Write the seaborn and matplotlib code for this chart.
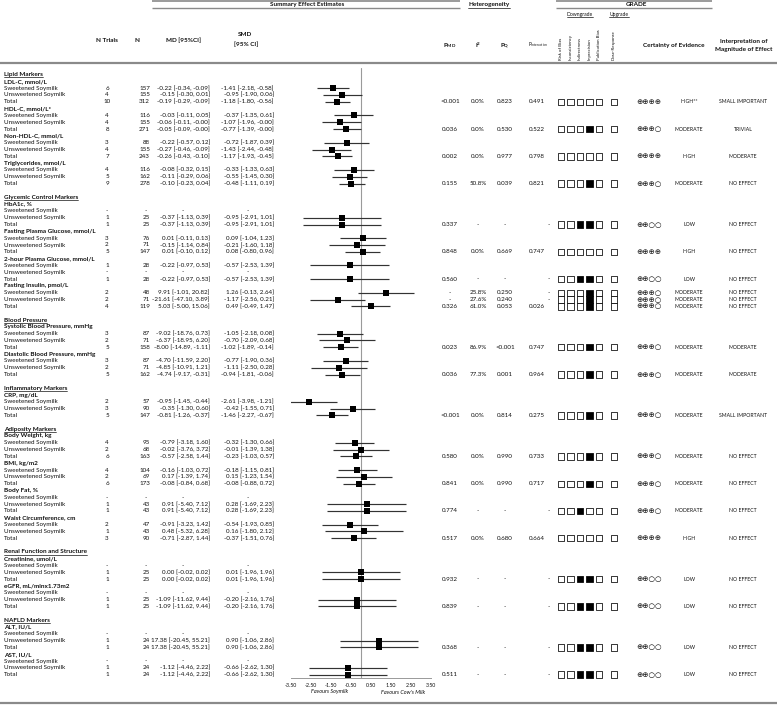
import numpy as np
import pandas as pd
import matplotlib
matplotlib.use("Agg")
import matplotlib.pyplot as plt
import seaborn as sns

# ---------------- data ----------------
sections = ["Lipid Markers", "Glycemic Control Markers", "Blood Pressure", "Inflammatory Markers",
            "Adiposity Markers", "Renal Function and Structure", "NAFLD Markers"]
section_sizes = [4, 4, 2, 1, 4, 2, 2]
outcomes = ["LDL-C, mmol/L", "HDL-C, mmol/L*", "Non-HDL-C, mmol/L", "Triglycerides, mmol/L",
            "HbA1c, %", "Fasting Plasma Glucose, mmol/L", "2-hour Plasma Glucose, mmol/L", "Fasting Insulin, pmol/L",
            "Systolic Blood Pressure, mmHg", "Diastolic Blood Pressure, mmHg",
            "CRP, mg/dL",
            "Body Weight, kg", "BMI, kg/m2", "Body Fat, %", "Waist Circumference, cm",
            "Creatinine, umol/L", "eGFR, mL/minx1.73m2",
            "ALT, IU/L", "AST, IU/L"]
subgroups = ["Sweetened Soymilk", "Unsweetened Soymilk", "Total"]

n_trials = [[6, 4, 10], [4, 4, 8], [3, 4, 7], [4, 5, 9],
            [None, 1, 1], [3, 2, 5], [1, None, 1], [2, 2, 4],
            [3, 2, 5], [3, 2, 5],
            [2, 3, 5],
            [4, 2, 6], [4, 2, 6], [None, 1, 1], [2, 1, 3],
            [None, 1, 1], [None, 1, 1],
            [None, 1, 1], [None, 1, 1]]
n_part = [[157, 155, 312], [116, 155, 271], [88, 155, 243], [116, 162, 278],
          [None, 25, 25], [76, 71, 147], [28, None, 28], [48, 71, 119],
          [87, 71, 158], [87, 71, 162],
          [57, 90, 147],
          [95, 68, 163], [104, 69, 173], [None, 43, 43], [47, 43, 90],
          [None, 25, 25], [None, 25, 25],
          [None, 24, 24], [None, 24, 24]]

md_est = [[-0.22, -0.15, -0.19], [-0.03, -0.06, -0.05], [-0.22, -0.27, -0.26], [-0.08, -0.11, -0.10],
          [None, -0.37, -0.37], [0.01, -0.15, 0.01], [-0.22, None, -0.22], [9.91, -21.61, 5.03],
          [-9.02, -6.37, -8.00], [-4.70, -4.85, -4.74],
          [-0.95, -0.35, -0.81],
          [-0.79, -0.02, -0.57], [-0.16, 0.17, -0.08], [None, 0.91, 0.91], [-0.91, 0.48, -0.71],
          [None, 0.00, 0.00], [None, -1.09, -1.09],
          [None, 17.38, 17.38], [None, -1.12, -1.12]]
md_lo = [[-0.34, -0.30, -0.29], [-0.11, -0.11, -0.09], [-0.57, -0.46, -0.43], [-0.32, -0.29, -0.23],
         [None, -1.13, -1.13], [-0.11, -1.14, -0.10], [-0.97, None, -0.97], [-1.01, -47.10, -5.00],
         [-18.76, -18.95, -14.89], [-11.59, -10.91, -9.17],
         [-1.45, -1.30, -1.26],
         [-3.18, -3.76, -2.58], [-1.03, -1.39, -0.84], [None, -5.40, -5.40], [-3.23, -5.32, -2.87],
         [None, -0.02, -0.02], [None, -11.62, -11.62],
         [None, -20.45, -20.45], [None, -4.46, -4.46]]
md_hi = [[-0.09, 0.01, -0.09], [0.05, -0.0, -0.0], [0.12, -0.09, -0.10], [0.15, 0.06, 0.04],
         [None, 0.39, 0.39], [0.13, 0.84, 0.12], [0.53, None, 0.53], [20.82, 3.89, 15.06],
         [0.73, 6.20, -1.11], [2.20, 1.21, -0.31],
         [-0.44, 0.60, -0.37],
         [1.60, 3.72, 1.44], [0.72, 1.74, 0.68], [None, 7.12, 7.12], [1.42, 6.28, 1.44],
         [None, 0.02, 0.02], [None, 9.44, 9.44],
         [None, 55.21, 55.21], [None, 2.22, 2.22]]

smd_est = [[-1.41, -0.95, -1.18], [-0.37, -1.07, -0.77], [-0.72, -1.43, -1.17], [-0.33, -0.55, -0.48],
           [None, -0.95, -0.95], [0.09, -0.21, 0.08], [-0.57, None, -0.57], [1.26, -1.17, 0.49],
           [-1.05, -0.70, -1.02], [-0.77, -1.11, -0.94],
           [-2.61, -0.42, -1.46],
           [-0.32, -0.01, -0.23], [-0.18, 0.15, -0.08], [None, 0.28, 0.28], [-0.54, 0.16, -0.37],
           [None, 0.01, 0.01], [None, -0.20, -0.20],
           [None, 0.90, 0.90], [None, -0.66, -0.66]]
smd_lo = [[-2.18, -1.90, -1.80], [-1.35, -1.96, -1.39], [-1.87, -2.44, -1.93], [-1.33, -1.45, -1.11],
          [None, -2.91, -2.91], [-1.04, -1.60, -0.80], [-2.53, None, -2.53], [-0.13, -2.56, -0.49],
          [-2.18, -2.09, -1.89], [-1.90, -2.50, -1.81],
          [-3.98, -1.55, -2.27],
          [-1.30, -1.39, -1.03], [-1.15, -1.23, -0.88], [None, -1.69, -1.69], [-1.93, -1.80, -1.51],
          [None, -1.96, -1.96], [None, -2.16, -2.16],
          [None, -1.06, -1.06], [None, -2.62, -2.62]]
smd_hi = [[-0.58, 0.06, -0.56], [0.61, -0.0, -0.0], [0.39, -0.48, -0.45], [0.63, 0.30, 0.19],
          [None, 1.01, 1.01], [1.23, 1.18, 0.96], [1.39, None, 1.39], [2.64, 0.21, 1.47],
          [0.08, 0.68, -0.14], [0.36, 0.28, -0.06],
          [-1.21, 0.71, -0.67],
          [0.66, 1.38, 0.57], [0.81, 1.54, 0.72], [None, 2.23, 2.23], [0.85, 2.12, 0.76],
          [None, 1.96, 1.96], [None, 1.76, 1.76],
          [None, 2.86, 2.86], [None, 1.30, 1.30]]

p_md = ["<0.001", "0.036", "0.002", "0.155", "0.337", "0.848", "0.560", "0.326", "0.023", "0.036",
        "<0.001", "0.580", "0.841", "0.774", "0.517", "0.932", "0.839", "0.368", "0.511"]
i2 = ["0.0%", "0.0%", "0.0%", "50.8%", "-", "0.0%", "-", "61.0%", "86.9%", "77.3%",
      "0.0%", "0.0%", "0.0%", "-", "0.0%", "-", "-", "-", "-"]
p_q = ["0.823", "0.530", "0.977", "0.039", "-", "0.669", "-", "0.053", "<0.001", "0.001",
       "0.814", "0.990", "0.990", "-", "0.680", "-", "-", "-", "-"]
p_int = ["0.491", "0.522", "0.798", "0.821", "-", "0.747", "-", "0.026", "0.747", "0.964",
         "0.275", "0.733", "0.717", "-", "0.664", "-", "-", "-", "-"]
# fasting insulin subgroup heterogeneity rows
fi_sub_i2 = ["25.8%", "27.6%"]
fi_sub_pq = ["0.250", "0.240"]

grade_cols = ["Risk of Bias", "Inconsistency", "Indirectness", "Imprecision", "Publication Bias", "Dose-Response"]
grade_flags = [[0, 0, 0, 0, 0, 0], [0, 0, 0, 1, 0, 0], [0, 0, 0, 0, 0, 0], [0, 0, 0, 1, 0, 0],
               [0, 0, 1, 1, 0, 0], [0, 0, 0, 0, 0, 0], [0, 0, 1, 1, 0, 0], [0, 0, 0, 1, 0, 0],
               [0, 0, 0, 1, 0, 0], [0, 0, 0, 1, 0, 0],
               [0, 0, 0, 1, 0, 0],
               [0, 0, 0, 1, 0, 0], [0, 0, 0, 1, 0, 0], [0, 0, 1, 0, 0, 0], [0, 0, 0, 0, 0, 0],
               [0, 0, 1, 1, 0, 0], [0, 0, 1, 1, 0, 0],
               [0, 0, 1, 1, 0, 0], [0, 0, 1, 1, 0, 0]]
certainty = ["HIGH**", "MODERATE", "HIGH", "MODERATE", "LOW", "HIGH", "LOW", "MODERATE",
             "MODERATE", "MODERATE", "MODERATE", "MODERATE", "MODERATE", "MODERATE", "HIGH",
             "LOW", "LOW", "LOW", "LOW"]
interpretation = ["SMALL IMPORTANT", "TRIVIAL", "MODERATE", "NO EFFECT", "NO EFFECT", "NO EFFECT",
                  "NO EFFECT", "NO EFFECT", "MODERATE", "MODERATE", "SMALL IMPORTANT", "NO EFFECT",
                  "NO EFFECT", "NO EFFECT", "NO EFFECT", "NO EFFECT", "NO EFFECT", "NO EFFECT", "NO EFFECT"]
xticks = [-3.5, -2.5, -1.5, -0.5, 0.5, 1.5, 2.5, 3.5]

# ---------------- style ----------------
sns.set_theme(style="white")
plt.rcParams["font.family"] = ["Lato", "DejaVu Sans"]
plt.rcParams["mathtext.default"] = "regular"

W, H = 777, 705
fig = plt.figure(figsize=(W / 100, H / 100), dpi=100)
ax = fig.add_axes([0, 0, 1, 1])
ax.set_xlim(0, W)
ax.set_ylim(H, 0)
ax.axis("off")

Y0, DY = 74.5, 6.82
def ry(i):
    return Y0 + DY * i

FS = 4.5
BFS = 4.6
SFS = 3.7
TXT = "#111111"

def fmt(v):
    return f"{v:.2f}"

def ci_text(e, lo, hi):
    return f"{fmt(e)} [{fmt(lo)}, {fmt(hi)}]"

underline_texts = []

def hline(x0, x1, y, lw=1.0, color="#8a8a8a"):
    ax.plot([x0, x1], [y, y], color=color, lw=lw, solid_capstyle="butt")

hline(152, 460, 1.2, 1.2)
hline(152, 460, 8.3, 1.0)
hline(556, 712, 1.2, 1.2)
hline(556, 712, 8.3, 1.0)
hline(0, W, 62.8, 1.6)
hline(0, W, 703, 1.6)

ax.text(307, 4.8, "Summary Effect Estimates", ha="center", va="center", fontsize=BFS, weight="bold", color=TXT)
t = ax.text(489, 4.8, "Heterogeneity", ha="center", va="center", fontsize=BFS, weight="bold", color=TXT)
underline_texts.append(t)
ax.text(636, 4.6, "GRADE", ha="center", va="center", fontsize=BFS, weight="bold", color=TXT)
t = ax.text(580, 14.5, "Downgrade", ha="center", va="center", fontsize=SFS, color=TXT)
underline_texts.append(t)
t = ax.text(619, 14.5, "Upgrade", ha="center", va="center", fontsize=SFS, color=TXT)
underline_texts.append(t)

box_x = [561, 570.5, 580, 589.5, 599, 614]
for bx, name in zip(box_x, grade_cols):
    ax.text(bx, 60, name, rotation=90, ha="center", va="bottom", fontsize=3.2, color=TXT)

ax.text(107, 40, "N Trials", ha="center", va="center", fontsize=BFS, weight="bold", color=TXT)
ax.text(137, 40, "N", ha="center", va="center", fontsize=BFS, weight="bold", color=TXT)
ax.text(183, 40, "MD [95%CI]", ha="center", va="center", fontsize=BFS, weight="bold", color=TXT)
ax.text(245, 35, "SMD", ha="center", va="center", fontsize=BFS, weight="bold", color=TXT)
ax.text(246, 44, "[95% CI]", ha="center", va="center", fontsize=BFS, weight="bold", color=TXT)
ax.text(450, 46, "P$_{MD}$", ha="center", va="center", fontsize=BFS, weight="bold", color=TXT)
ax.text(478, 45, "I$^2$", ha="center", va="center", fontsize=BFS, weight="bold", color=TXT)
ax.text(505, 46, "P$_{Q}$", ha="center", va="center", fontsize=BFS, weight="bold", color=TXT)
ax.text(538, 44.5, "P$_{interaction}$", ha="center", va="center", fontsize=3.4, color=TXT)
ax.text(674, 45, "Certainty of Evidence", ha="center", va="center", fontsize=BFS, weight="bold", color=TXT)
ax.text(744, 41, "Interpretation of", ha="center", va="center", fontsize=BFS, weight="bold", color=TXT)
ax.text(744, 50, "Magnitude of Effect", ha="center", va="center", fontsize=BFS, weight="bold", color=TXT)

# ---------------- rows ----------------
X_LAB, X_NT, X_N, X_MD, X_SMD = 4, 107, 150, 210, 274
X_PMD, X_I2, X_PQ, X_PINT = 450, 478, 505, 537
X_SYM, X_CERT, X_INT = 649, 689, 743
sym_count = {"HIGH": 4, "HIGH**": 4, "MODERATE": 3, "LOW": 2}

forest_rows = []
box_pts = []
row = 0
oi = 0
for si, (sec, nsz) in enumerate(zip(sections, section_sizes)):
    t = ax.text(X_LAB, ry(row), sec, ha="left", va="center", fontsize=BFS, weight="bold", color=TXT)
    underline_texts.append(t)
    row += 1
    for k in range(nsz):
        ax.text(X_LAB, ry(row), outcomes[oi], ha="left", va="center", fontsize=BFS, weight="bold", color=TXT)
        row += 1
        for g in range(3):
            y = ry(row)
            ax.text(X_LAB, y, subgroups[g], ha="left", va="center", fontsize=FS, color=TXT)
            nt = n_trials[oi][g]
            if nt is None:
                ax.text(X_NT, y, "-", ha="center", va="center", fontsize=FS, color=TXT)
                ax.text(X_N - 4, y, "-", ha="center", va="center", fontsize=FS, color=TXT)
                ax.text(X_MD - 27, y, "-", ha="center", va="center", fontsize=FS, color=TXT)
                ax.text(X_SMD - 26, y, "-", ha="center", va="center", fontsize=FS, color=TXT)
            else:
                ax.text(X_NT, y, str(nt), ha="center", va="center", fontsize=FS, color=TXT)
                ax.text(X_N, y, str(n_part[oi][g]), ha="right", va="center", fontsize=FS, color=TXT)
                ax.text(X_MD, y, ci_text(md_est[oi][g], md_lo[oi][g], md_hi[oi][g]),
                        ha="right", va="center", fontsize=FS, color=TXT)
                ax.text(X_SMD, y, ci_text(smd_est[oi][g], smd_lo[oi][g], smd_hi[oi][g]),
                        ha="right", va="center", fontsize=FS, color=TXT)
                forest_rows.append({"row": row, "est": smd_est[oi][g],
                                    "lo": smd_lo[oi][g], "hi": smd_hi[oi][g]})
            show = (g == 2) or (outcomes[oi].startswith("Fasting Insulin"))
            if show:
                if g == 2:
                    vals = [p_md[oi], i2[oi], p_q[oi], p_int[oi]]
                else:
                    vals = ["-", fi_sub_i2[g], fi_sub_pq[g], "-"]
                for xv, v in zip([X_PMD, X_I2, X_PQ], vals[:3]):
                    ax.text(xv, y, v, ha="center", va="center", fontsize=FS, color=TXT)
                if vals[3] == "-":
                    ax.text(X_PINT + 12, y, "-", ha="center", va="center", fontsize=FS, color=TXT)
                else:
                    ax.text(X_PINT, y, vals[3], ha="center", va="center", fontsize=FS, color=TXT)
                for bx, f in zip(box_x, grade_flags[oi]):
                    box_pts.append((bx, y, f))
                c = certainty[oi]
                n_plus = sym_count[c]
                ax.text(X_SYM, y, "\u2295" * n_plus + "\u25CB" * (4 - n_plus), ha="center", va="center",
                        fontsize=5.4, family=["DejaVu Sans"], color=TXT)
                ax.text(X_CERT, y, c, ha="center", va="center", fontsize=SFS, color=TXT)
                ax.text(X_INT, y, interpretation[oi], ha="center", va="center", fontsize=SFS, color=TXT)
            row += 1
        oi += 1
    row += 1  # blank row

# GRADE boxes
bp = np.array(box_pts)
ax.scatter(bp[:, 0], bp[:, 1], marker="s", s=21,
           facecolors=["black" if f else "white" for f in bp[:, 2]],
           edgecolors="black", linewidths=0.55, zorder=3)

# ---------------- forest plot ----------------
y_top, y_bot = 68, 678
fax = fig.add_axes([291 / W, 1 - y_bot / H, 140 / W, (y_bot - y_top) / H])
fax.set_facecolor("none")
df = pd.DataFrame(forest_rows)
fax.hlines(df["row"], df["lo"], df["hi"], color="#333333", lw=0.85, zorder=2)
sns.scatterplot(data=df, x="est", y="row", marker="s", s=14, color="black", edgecolor="black",
                linewidth=0, ax=fax, legend=False, zorder=3)
fax.axvline(0, color="#9a9a9a", lw=0.8, zorder=1)
fax.set_xlim(-3.5, 3.5)
fax.set_ylim((y_bot - Y0) / DY, (y_top - Y0) / DY)
fax.set_xlabel("")
fax.set_ylabel("")
fax.set_yticks([])
fax.set_xticks(xticks)
fax.set_xticklabels([f"{v:.2f}" for v in xticks], fontsize=3.8, color=TXT)
fax.tick_params(axis="x", direction="out", length=2, width=0.6, color="#888888", pad=1.5)
for s in ["top", "left", "right"]:
    fax.spines[s].set_visible(False)
fax.spines["bottom"].set_color("#999999")
fax.spines["bottom"].set_linewidth(0.7)

ax.text(330, 692, "Favours Soymilk", ha="center", va="center", fontsize=4.0, style="italic", color=TXT)
ax.text(403, 692, "Favours Cow's Milk", ha="center", va="center", fontsize=4.0, style="italic", color=TXT)

# underlines
fig.canvas.draw()
inv = ax.transData.inverted()
for t in underline_texts:
    bb = t.get_window_extent()
    (x0, y0), (x1, y1) = inv.transform([[bb.x0, bb.y0], [bb.x1, bb.y1]])
    ax.plot([x0, x1], [y0 + 0.3, y0 + 0.3], color=TXT, lw=0.5)

fig.savefig("out.png", dpi=100)
